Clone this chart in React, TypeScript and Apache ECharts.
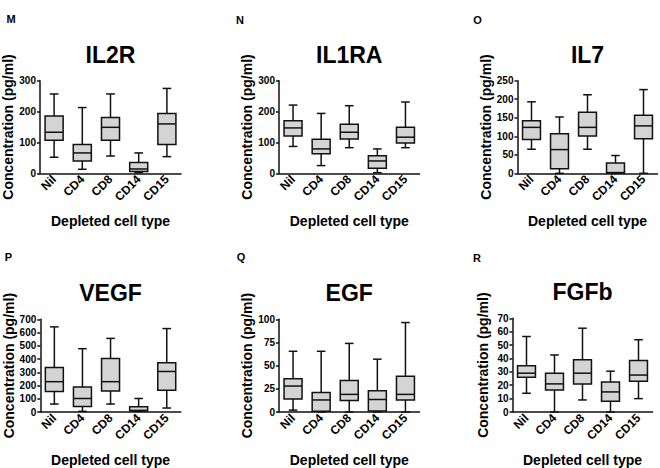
import React, { useEffect, useRef } from "react";
import * as echarts from "echarts";

// [min, Q1, median, Q3, max] per depleted cell type
const categories = ["Nil", "CD4", "CD8", "CD14", "CD15"];
const il2r = [[52, 107, 133, 186, 257], [13, 40, 66, 93, 213], [56, 107, 149, 181, 257], [2, 6, 14, 35, 66], [54, 93, 160, 194, 275]];
const il1ra = [[87, 121, 147, 170, 221], [25, 63, 79, 110, 194], [83, 111, 133, 159, 219], [2, 16, 40, 57, 79], [83, 98, 117, 149, 231]];
const il7 = [[65, 91, 124, 142, 193], [0, 12, 64, 107, 152], [65, 101, 124, 165, 212], [0, 1, 2, 28, 48], [0, 93, 128, 157, 226]];
const vegf = [[60, 154, 229, 336, 643], [5, 42, 102, 189, 478], [60, 159, 229, 404, 556], [5, 10, 12, 40, 102], [30, 164, 306, 371, 630]];
const egf = [[2, 14, 28, 36, 65.5], [0, 0.7, 13, 21, 65.5], [0, 12.5, 19, 34, 74], [0, 1, 13.5, 23, 57], [0, 13, 19, 38.5, 96.5]];
const fgfb = [[14, 26, 29, 34.5, 56.4], [0, 16.5, 21, 29, 42.6], [9, 21, 29, 39, 62.6], [0, 8, 15, 22.4, 30.5], [10, 23, 27.6, 38.5, 54]];

const panelLetters = ["M", "N", "O", "P", "Q", "R"];
const panelTitles = ["IL2R", "IL1RA", "IL7", "VEGF", "EGF", "FGFb"];
const panelData = [il2r, il1ra, il7, vegf, egf, fgfb];
const yMax = [300, 300, 250, 700, 100, 70];
const yInterval = [100, 100, 50, 100, 25, 10];

const FONT = "'Liberation Sans', Arial, Helvetica, sans-serif";

// layout (pixels)
const grids = [
  { left: 40, top: 80.7, width: 141, height: 92.6 },
  { left: 279, top: 80.7, width: 140.5, height: 92.6 },
  { left: 517.5, top: 80.7, width: 140, height: 92.6 },
  { left: 40.3, top: 319.3, width: 140.5, height: 93.7 },
  { left: 279, top: 319.3, width: 140.5, height: 93.7 },
  { left: 512.5, top: 318.3, width: 140, height: 94.5 },
];
const letterPos = [
  [11, 19], [240, 19.5], [477.5, 19.5],
  [8.5, 257], [241, 257], [477, 257.5],
];

const renderBox = (params: any, api: any) => {
  const idx = api.value(0);
  const cx = api.coord([idx, 0])[0];
  const band = api.size([1, 0])[0];
  const bw = band * 0.64;
  const cw = bw * 0.48;
  const yMin = api.coord([idx, api.value(1)])[1];
  const yQ1 = api.coord([idx, api.value(2)])[1];
  const yMed = api.coord([idx, api.value(3)])[1];
  const yQ3 = api.coord([idx, api.value(4)])[1];
  const yMaxP = api.coord([idx, api.value(5)])[1];
  const stroke = { stroke: "#111", lineWidth: 1.5, fill: null };
  return {
    type: "group",
    children: [
      { type: "line", shape: { x1: cx, y1: yMaxP, x2: cx, y2: yQ3 }, style: stroke },
      { type: "line", shape: { x1: cx, y1: yQ1, x2: cx, y2: yMin }, style: stroke },
      { type: "line", shape: { x1: cx - cw / 2, y1: yMaxP, x2: cx + cw / 2, y2: yMaxP }, style: stroke },
      { type: "line", shape: { x1: cx - cw / 2, y1: yMin, x2: cx + cw / 2, y2: yMin }, style: stroke },
      {
        type: "rect",
        shape: { x: cx - bw / 2, y: yQ3, width: bw, height: yQ1 - yQ3 },
        style: { fill: "#d4d4d4", stroke: "#111", lineWidth: 1.5 },
      },
      { type: "line", shape: { x1: cx - bw / 2, y1: yMed, x2: cx + bw / 2, y2: yMed }, style: stroke },
    ],
  };
};

export default function App() {
  const ref = useRef<HTMLDivElement>(null);
  useEffect(() => {
    if (!ref.current) return;
    const chart = echarts.init(ref.current, undefined, { renderer: "svg" });
    const graphic: any[] = [];
    panelLetters.forEach((l, i) => {
      graphic.push({
        type: "text",
        x: letterPos[i][0],
        y: letterPos[i][1],
        style: {
          text: l, font: `bold 11px ${FONT}`, fill: "#000",
          textAlign: "center", textVerticalAlign: "middle",
        },
      });
      const g = grids[i];
      graphic.push({
        type: "text",
        x: g.left + g.width / 2,
        y: g.top - 26,
        style: {
          text: panelTitles[i], font: `bold 23px ${FONT}`, fill: "#000",
          textAlign: "center", textVerticalAlign: "middle",
        },
      });
    });
    const option: any = {
      animation: false,
      backgroundColor: "#fff",
      grid: grids.map((g) => ({ ...g, containLabel: false })),
      xAxis: grids.map((_, i) => ({
        type: "category",
        gridIndex: i,
        data: categories,
        boundaryGap: true,
        axisLine: { lineStyle: { color: "#111", width: 1.5 } },
        axisTick: { show: false },
        axisLabel: {
          interval: 0, rotate: 45, margin: 4, color: "#000",
          fontFamily: FONT, fontWeight: "bold", fontSize: 12,
        },
        splitLine: { show: false },
        name: "Depleted cell type",
        nameLocation: "middle",
        nameGap: 41,
        nameTextStyle: { color: "#000", fontFamily: FONT, fontWeight: "bold", fontSize: 14 },
      })),
      yAxis: grids.map((_, i) => ({
        type: "value",
        gridIndex: i,
        min: 0,
        max: yMax[i],
        interval: yInterval[i],
        axisLine: { show: true, lineStyle: { color: "#111", width: 1.5 } },
        axisTick: { show: true, length: 3, lineStyle: { color: "#111", width: 1.5 } },
        axisLabel: {
          margin: 4, color: "#000", fontFamily: FONT, fontWeight: "bold", fontSize: 10,
        },
        splitLine: { show: false },
        name: "Concentration (pg/ml)",
        nameLocation: "middle",
        nameGap: 23,
        nameTextStyle: { color: "#000", fontFamily: FONT, fontWeight: "bold", fontSize: 14 },
      })),
      series: panelData.map((d, i) => ({
        type: "custom",
        xAxisIndex: i,
        yAxisIndex: i,
        renderItem: renderBox,
        encode: { x: 0, y: [1, 2, 3, 4, 5] },
        data: d.map((v, k) => [k, ...v]),
      })),
      graphic,
    };
    chart.setOption(option);
    return () => chart.dispose();
  }, []);
  return (
    <div
      ref={ref}
      style={{ position: "fixed", left: 0, top: 0, width: 660, height: 468, background: "#fff" }}
    />
  );
}
